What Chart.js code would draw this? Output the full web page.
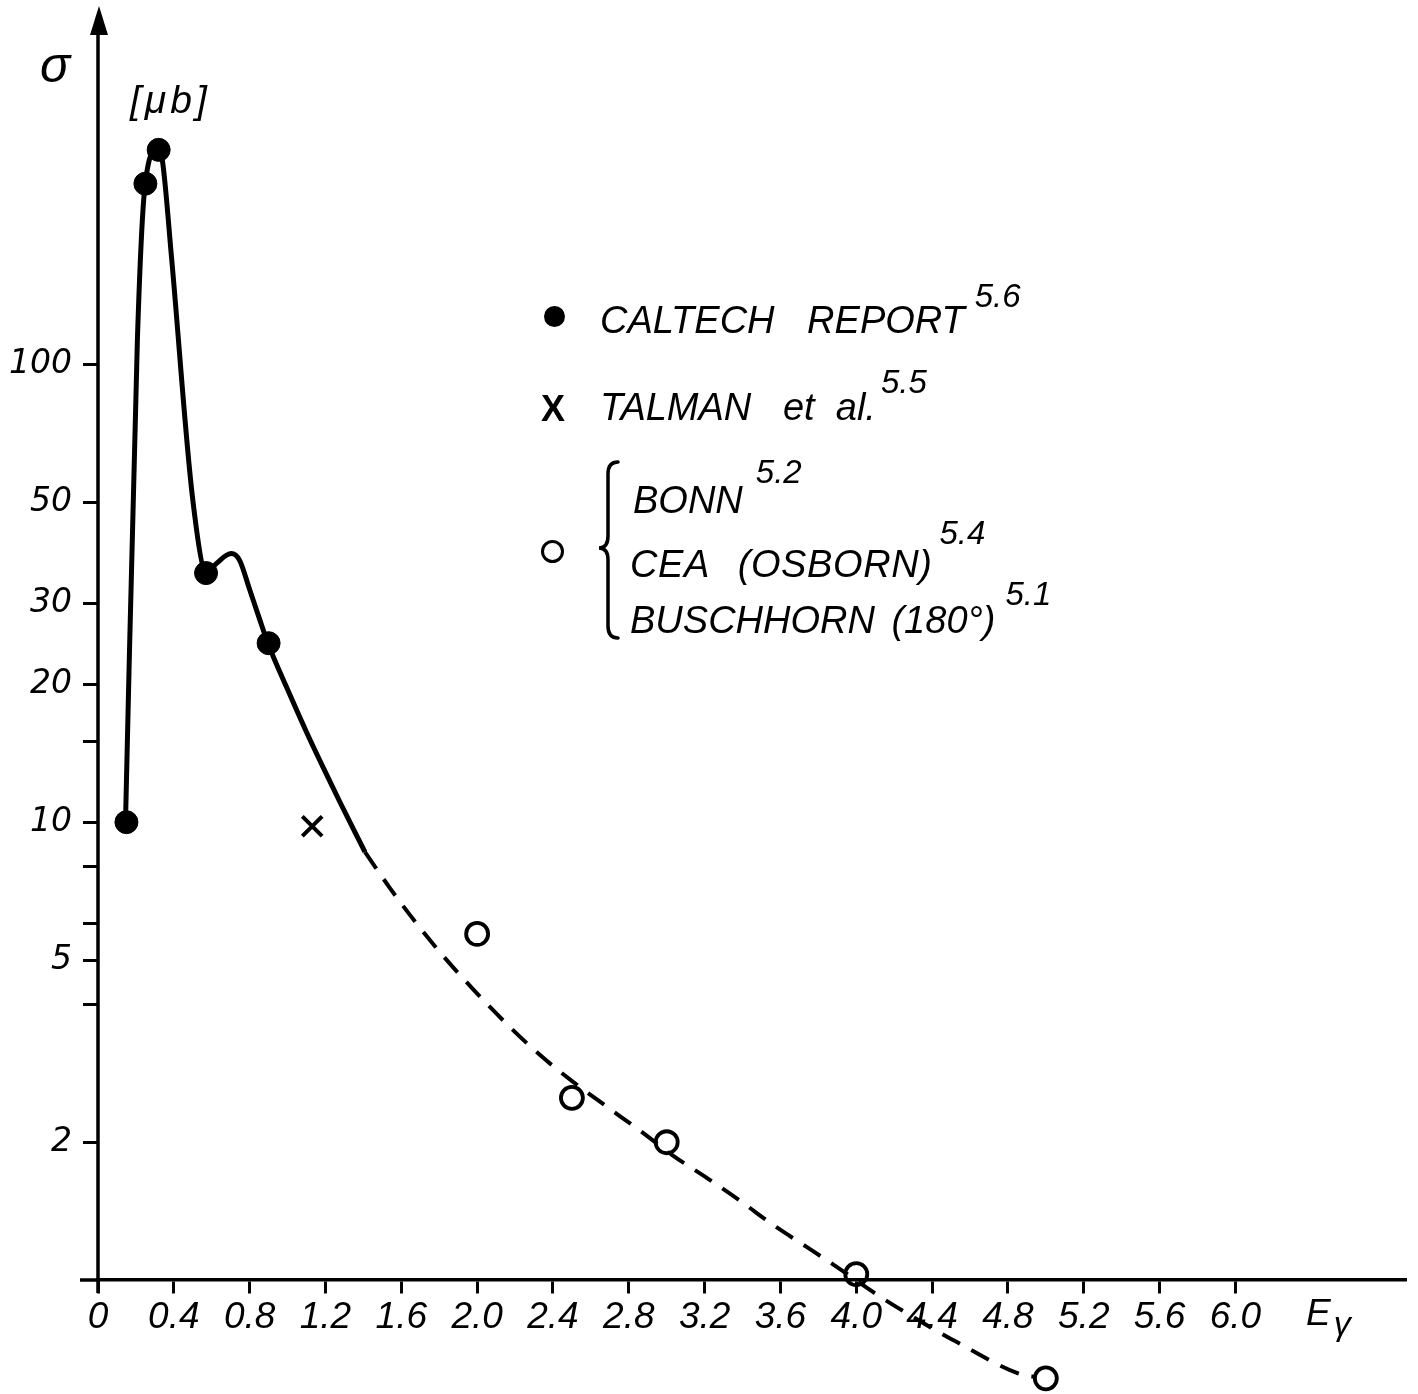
<!DOCTYPE html>
<html>
<head>
<meta charset="utf-8">
<script src="https://cdn.jsdelivr.net/npm/chart.js@4/dist/chart.umd.min.js"></script>
<style>
  html, body { margin: 0; padding: 0; background: #fff; }
  #wrap { position: relative; width: 1418px; height: 1394px; }
  #wrap canvas { position: absolute; left: 0; top: 0; }
  .lbl { position: absolute; font-family: 'Liberation Sans', sans-serif; font-style: italic;
         color: #000; line-height: 1; white-space: pre; }
  .leg { font-size: 38px; }
  .sup { position: relative; font-size: 33px; }
  .dot { position: absolute; width: 21px; height: 21px; border-radius: 50%; background: #000; }
  .ring { position: absolute; width: 17px; height: 17px; border-radius: 50%; border: 3.5px solid #000; }
</style>
</head>
<body>
<div id="wrap">
  <canvas id="chart"></canvas>

  <!-- axis titles -->
  <div class="lbl" style="left:40px; top:40px; font-size:50px;">σ</div>
  <div class="lbl" style="left:130px; top:80px; font-size:39px; letter-spacing:4px;">[μb]</div>
  <div class="lbl" style="left:1306px; top:1294px; font-size:37px;">E<span style="font-size:34px; position:relative; top:10px; margin-left:3px;">γ</span></div>

  <!-- key -->
  <div class="dot" style="left:544px; top:306px;"></div>
  <div class="lbl leg" style="left:600px; top:301px; word-spacing:22px;">CALTECH REPORT<span class="sup" style="top:-26px; margin-left:10px;">5.6</span></div>

  <div class="lbl" style="left:541px; top:391px; font-size:36px; font-style:normal; font-weight:bold;">X</div>
  <div class="lbl leg" style="left:600px; top:388px;">TALMAN   et  al.<span class="sup" style="top:-27px; margin-left:5px;">5.5</span></div>

  <div class="ring" style="left:541px; top:540px;"></div>
  <svg style="position:absolute; left:594px; top:458px;" width="30" height="186">
    <path d="M 24 4 Q 14 4 14 16 L 14 78 Q 14 90 5 90 Q 14 90 14 102 L 14 168 Q 14 180 24 180"
          fill="none" stroke="#000" stroke-width="3.5" stroke-linecap="round"/>
  </svg>
  <div class="lbl leg" style="left:633px; top:481px;">BONN<span class="sup" style="top:-30px; margin-left:13px;">5.2</span></div>
  <div class="lbl leg" style="left:630px; top:545px; word-spacing:18px; letter-spacing:0.6px;">CEA (OSBORN)<span class="sup" style="top:-33px; margin-left:7px; letter-spacing:0;">5.4</span></div>
  <div class="lbl leg" style="left:630px; top:601px; word-spacing:6px;">BUSCHHORN (180°)<span class="sup" style="top:-28px; margin-left:10px;">5.1</span></div>
</div>

<script>
// photon energy E_gamma [GeV] and cross section sigma [microbarn]
const caltechE = [0.15, 0.25, 0.32, 0.57, 0.90];
const caltechSigma = [10, 248, 294, 35, 24.6];

const talmanE = [1.13];
const talmanSigma = [9.8];

const openE = [2.0, 2.5, 3.0, 4.0, 5.0];
const openSigma = [5.7, 2.5, 2.0, 1.03, 0.61];

// drawn curve, solid part
const solidCurveE = [0.145, 0.208, 0.249, 0.318, 0.340, 0.388, 0.499, 0.574, 0.624, 0.703,
                     0.747, 0.799, 0.852, 0.896, 1.013, 1.102, 1.187, 1.276, 1.408];
const solidCurveSigma = [10, 114, 248, 296, 278, 171, 51, 35, 36.7, 38.6,
                         37.3, 32.3, 27.8, 24.6, 18.95, 15.66, 13.19, 11.07, 8.61];

// drawn curve, dashed continuation
const dashCurveE = [1.408, 1.540, 1.683, 1.804, 1.978, 2.158, 2.332, 2.506, 2.685, 2.859,
                    3.033, 3.213, 3.387, 3.561, 3.740, 3.914, 4.088, 4.231, 4.531, 4.879, 4.95];
const dashCurveSigma = [8.61, 7.18, 5.99, 5.20, 4.32, 3.62, 3.10, 2.71, 2.39, 2.12,
                        1.87, 1.67, 1.49, 1.32, 1.18, 1.057, 0.942, 0.864, 0.732, 0.620, 0.614];

const xTickValues = [0, 0.4, 0.8, 1.2, 1.6, 2.0, 2.4, 2.8, 3.2, 3.6, 4.0, 4.4, 4.8, 5.2, 5.6, 6.0];
const xTickLabels = ['0', '0.4', '0.8', '1.2', '1.6', '2.0', '2.4', '2.8', '3.2', '3.6', '4.0', '4.4', '4.8', '5.2', '5.6', '6.0'];

const yTickValues = [2, 4, 5, 6, 8, 10, 15, 20, 30, 50, 100];
const yTickLabels = ['2', '', '5', '', '', '10', '', '20', '30', '50', '100'];

const pts = (xs, ys) => xs.map((x, i) => ({ x, y: ys[i] }));

// sigma axis line (stops just below the E axis) with its arrow head,
// and the short overshoot of the E axis left of the origin
const axisDecor = {
  id: 'axisDecor',
  afterDraw(chart) {
    const { ctx, chartArea: a, scales } = chart;
    const y1 = scales.y.getPixelForValue(1);
    ctx.save();
    ctx.fillStyle = '#000';
    ctx.strokeStyle = '#000';
    ctx.lineWidth = 3.5;
    ctx.beginPath();
    ctx.moveTo(a.left, a.top + 10);
    ctx.lineTo(a.left, y1 + 13);
    ctx.moveTo(a.left, y1);
    ctx.lineTo(a.left - 18, y1);
    ctx.stroke();
    ctx.beginPath();
    ctx.moveTo(a.left + 1, a.top - 2);
    ctx.lineTo(a.left - 8, a.top + 27);
    ctx.lineTo(a.left + 10, a.top + 27);
    ctx.closePath();
    ctx.fill();
    ctx.restore();
  }
};

new Chart(document.getElementById('chart'), {
  type: 'scatter',
  data: {
    datasets: [
      {
        label: 'CALTECH REPORT',
        data: pts(caltechE, caltechSigma),
        pointStyle: 'circle', pointRadius: 11.5,
        backgroundColor: '#000', borderColor: '#000', borderWidth: 1,
        clip: false,
      },
      {
        label: 'TALMAN et al.',
        data: pts(talmanE, talmanSigma),
        pointStyle: 'crossRot', pointRadius: 14,
        borderColor: '#000', borderWidth: 4,
        clip: false,
      },
      {
        label: 'BONN / CEA (OSBORN) / BUSCHHORN (180°)',
        data: pts(openE, openSigma),
        pointStyle: 'circle', pointRadius: 11,
        backgroundColor: 'rgba(0,0,0,0)', borderColor: '#000', borderWidth: 3.8,
        clip: false,
      },
      {
        label: 'curve',
        data: pts(solidCurveE, solidCurveSigma),
        showLine: true, pointRadius: 0,
        borderColor: '#000', borderWidth: 5, cubicInterpolationMode: 'monotone',
        clip: false,
      },
      {
        label: 'curve (extrapolated)',
        data: pts(dashCurveE, dashCurveSigma),
        showLine: true, pointRadius: 0,
        borderColor: '#000', borderWidth: 4, borderDash: [20, 13], cubicInterpolationMode: 'monotone',
        clip: false,
      },
    ]
  },
  options: {
    responsive: true,
    maintainAspectRatio: false,
    animation: false,
    events: [],
    layout: { autoPadding: false, padding: { top: 8, right: 12, bottom: 8, left: 0 } },
    plugins: { legend: { display: false }, tooltip: { enabled: false } },
    scales: {
      x: {
        type: 'linear',
        position: { y: 1 },
        min: 0, max: 6.9,
        afterBuildTicks: s => { s.ticks = xTickValues.map(v => ({ value: v })); },
        afterFit: s => { s.paddingLeft = 0; s.paddingRight = 0; },
        ticks: {
          autoSkip: false, maxRotation: 0, padding: 3, color: '#000',
          font: { family: 'Liberation Sans', size: 37, style: 'italic' },
          callback: (v, i) => xTickLabels[i],
        },
        grid: { drawOnChartArea: false, drawTicks: true, tickLength: 12, tickWidth: 3, tickColor: '#000' },
        border: { display: true, color: '#000', width: 3.5 },
      },
      y: {
        type: 'logarithmic',
        min: 0.587, max: 600,
        afterBuildTicks: s => { s.ticks = yTickValues.map(v => ({ value: v })); },
        afterFit: s => { s.width = 98; s.paddingTop = 0; s.paddingBottom = 0; },
        ticks: {
          autoSkip: false, padding: 11, color: '#000',
          font: { family: 'DejaVu Sans', size: 33, style: 'italic', lineHeight: 0.45 },
          callback: (v, i) => yTickLabels[i],
        },
        grid: { drawOnChartArea: false, drawTicks: true, tickLength: 15, tickWidth: 3, tickColor: '#000' },
        border: { display: false },
      }
    }
  },
  plugins: [axisDecor]
});
</script>
</body>
</html>
